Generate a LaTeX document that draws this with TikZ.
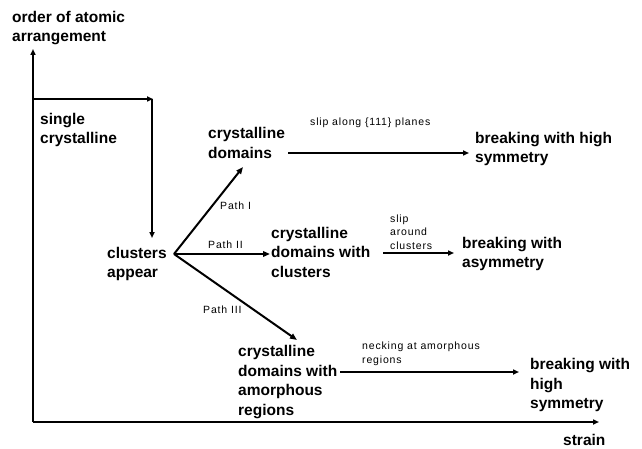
\documentclass[tikz,border=0pt]{standalone}
\usepackage{fontspec}
\setmainfont{Liberation Sans}
\newfontfamily\smallfam[LetterSpace=8]{Liberation Sans}
\usetikzlibrary{arrows.meta}
\begin{document}
\begin{tikzpicture}[x=1pt,y=-1pt,
  big/.style={font=\fontsize{15.5}{19.5}\selectfont\bfseries, align=left, inner sep=0pt, anchor=west},
  small/.style={font=\smallfam\fontsize{10.5}{13.5}\selectfont, align=left, inner sep=0pt, anchor=west},
  axis/.style={line width=2pt, -{Triangle[length=6pt,width=5pt]}},
  arr/.style={line width=1.5pt, -{Triangle[length=6pt,width=5pt]}},
  fanarr/.style={line width=2pt, -{Triangle[length=7pt,width=5.5pt]}}]
\useasboundingbox (0,0) rectangle (642,449);
% axes
\coordinate (origin) at (33,422);
\coordinate (ytop) at (33,49);
\coordinate (xend) at (599,422);
\draw[axis] (origin) -- (ytop);
\draw[axis] (origin) -- (xend);
\node[big] (ylab) at (12,28) {order of atomic\\arrangement};
\node[big] (xlab) at (563,440) {strain};
% step
\coordinate (s0) at (33,99);
\coordinate (s1) at (153,99);
\coordinate (s2) at (152,238);
\draw[axis] (s0) -- (s1);
\draw[axis] (152,99) -- (s2);
\node[big] (single) at (40,130) {single\\crystalline};
\node[big] (clusters) at (107,264) {clusters\\appear};
% fan
\coordinate (fan) at (174,254);
\coordinate (t1) at (243,167);
\coordinate (t2) at (270,254);
\coordinate (t3) at (297,340);
\draw[fanarr] (fan) -- (t1);
\draw[fanarr] (fan) -- (t2);
\draw[fanarr] (fan) -- (t3);
\node[small] (p1) at (220,206) {Path I};
\node[small] (p2) at (208,245) {Path II};
\node[small] (p3) at (203,310) {Path III};
% path I
\node[big] (cd) at (208,143) {crystalline\\domains};
\node[big] (b1) at (475,149) {breaking with high\\symmetry};
\coordinate (a1s) at (288,153);
\coordinate (a1e) at (469,153);
\draw[arr] (a1s) -- (a1e);
\node[small] (l1) at (310,123) {slip along \{111\} planes};
% path II
\node[big] (cdc) at (271,252) {crystalline\\domains with\\clusters};
\node[big] (b2) at (462,254) {breaking with\\asymmetry};
\coordinate (a2s) at (383,253);
\coordinate (a2e) at (454,253);
\draw[arr] (a2s) -- (a2e);
\node[small] (l2) at (390,232) {slip\\around\\clusters};
% path III
\node[big] (cda) at (238,382) {crystalline\\domains with\\amorphous\\regions};
\node[big] (b3) at (530,385) {breaking with\\high\\symmetry};
\coordinate (a3s) at (340,372);
\coordinate (a3e) at (519,372);
\draw[arr] (a3s) -- (a3e);
\node[small] (l3) at (362,354) {necking at amorphous\\regions};
\end{tikzpicture}
\end{document}
